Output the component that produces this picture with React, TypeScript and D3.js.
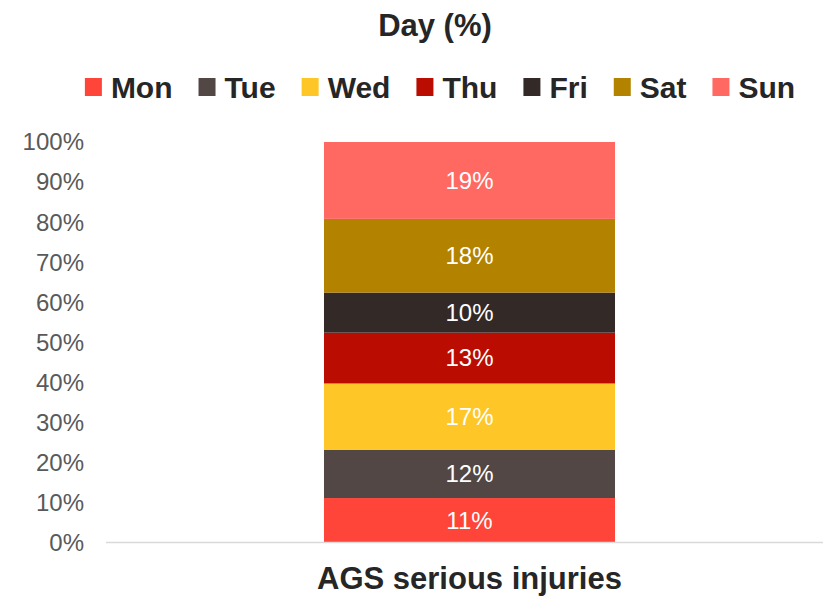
import React, { useEffect, useRef } from 'react';
import * as d3 from 'd3';

const categories = ['AGS serious injuries'];
const days = ['Mon', 'Tue', 'Wed', 'Thu', 'Fri', 'Sat', 'Sun'];
const dayValues = [11.1, 12.0, 16.6, 12.7, 10.0, 18.4, 19.2];
const dayColors = ['#FF4539', '#534745', '#FFC627', '#BA0C00', '#332927', '#B38300', '#FF6962'];
const yTicks = [0, 10, 20, 30, 40, 50, 60, 70, 80, 90, 100];

const FONT = '"Liberation Sans", Arial, sans-serif';

const App = () => {
    const ref = useRef<SVGSVGElement>(null);

    useEffect(() => {
        const svg = d3.select(ref.current);
        svg.selectAll('*').remove();

        const width = 823, height = 596;
        const plotLeft = 106, plotRight = 823;
        const yScale = d3.scaleLinear().domain([0, 100]).range([542.5, 142]);
        const xScale = d3.scaleBand<string>()
            .domain(categories)
            .range([116, 823])
            .padding(0.4168);

        svg.append('rect').attr('width', width).attr('height', height).attr('fill', '#fff');

        // title
        svg.append('text')
            .attr('x', 435).attr('y', 36)
            .attr('text-anchor', 'middle')
            .style('font-family', FONT).style('font-weight', 'bold').style('font-size', '31px')
            .attr('fill', '#262626')
            .text('Day (%)');

        // legend
        const legend = svg.append('g');
        let lx = 0;
        const gap = 26;
        days.forEach((d, i) => {
            const g = legend.append('g').attr('transform', `translate(${lx},0)`);
            g.append('rect').attr('x', 0).attr('y', 78).attr('width', 17).attr('height', 18).attr('fill', dayColors[i]);
            const t = g.append('text')
                .attr('x', 26).attr('y', 98)
                .style('font-family', FONT).style('font-weight', 'bold').style('font-size', '30px')
                .attr('fill', '#262626')
                .text(d);
            const w = (t.node() as SVGTextElement).getComputedTextLength();
            lx += 26 + w + gap;
        });
        const legendWidth = lx - gap;
        legend.attr('transform', `translate(${440 - legendWidth / 2},0)`);

        // y axis labels
        svg.append('g')
            .selectAll('text')
            .data(yTicks)
            .enter()
            .append('text')
            .attr('x', 84)
            .attr('y', d => yScale(d))
            .attr('dy', '0.35em')
            .attr('text-anchor', 'end')
            .style('font-family', FONT).style('font-size', '24px')
            .attr('fill', '#595959')
            .text(d => `${d}%`);

        // stacked segments
        const row: any = { cat: categories[0] };
        days.forEach((d, i) => { row[d] = dayValues[i]; });
        const series = d3.stack<any>().keys(days)([row]);

        const bars = svg.append('g');
        series.forEach((s, i) => {
            const seg = s[0];
            bars.append('rect')
                .attr('x', xScale(categories[0])!)
                .attr('width', xScale.bandwidth())
                .attr('y', yScale(seg[1]))
                .attr('height', yScale(seg[0]) - yScale(seg[1]))
                .attr('fill', dayColors[i]);
            bars.append('text')
                .attr('x', xScale(categories[0])! + xScale.bandwidth() / 2)
                .attr('y', (yScale(seg[0]) + yScale(seg[1])) / 2)
                .attr('dy', '0.35em')
                .attr('text-anchor', 'middle')
                .style('font-family', FONT).style('font-size', '24px')
                .attr('fill', '#ffffff')
                .text(`${Math.round(dayValues[i])}%`);
        });

        // baseline
        svg.append('line')
            .attr('x1', plotLeft).attr('x2', plotRight)
            .attr('y1', yScale(0)).attr('y2', yScale(0))
            .attr('stroke', '#d9d9d9').attr('stroke-width', 1.5);

        // category label
        svg.append('text')
            .attr('x', xScale(categories[0])! + xScale.bandwidth() / 2)
            .attr('y', 589)
            .attr('text-anchor', 'middle')
            .style('font-family', FONT).style('font-weight', 'bold').style('font-size', '31px')
            .attr('fill', '#262626')
            .text(categories[0]);
    }, []);

    return <svg ref={ref} width={823} height={596}
        style={{ position: 'absolute', left: 0, top: 0, display: 'block' }} />;
};

export default App;
